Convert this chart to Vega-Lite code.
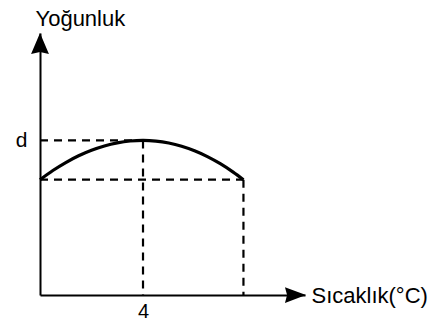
{
  "$schema": "https://vega.github.io/schema/vega-lite/v6.json",
  "width": 265,
  "height": 262,
  "autosize": {"type": "none"},
  "padding": {"left": 40, "top": 33, "right": 130, "bottom": 27},
  "background": "white",
  "config": {"view": {"stroke": null}, "font": "Liberation Sans"},
  "datasets": {
    "curve": [
      {"x": 0, "y": 4.4},
      {"x": 0.5, "y": 4.752},
      {"x": 1, "y": 5.056},
      {"x": 1.5, "y": 5.314},
      {"x": 2, "y": 5.525},
      {"x": 2.5, "y": 5.689},
      {"x": 3, "y": 5.806},
      {"x": 3.5, "y": 5.877},
      {"x": 4, "y": 5.9},
      {"x": 4.5, "y": 5.875},
      {"x": 5, "y": 5.801},
      {"x": 5.5, "y": 5.678},
      {"x": 6, "y": 5.506},
      {"x": 6.5, "y": 5.284},
      {"x": 7, "y": 5.013},
      {"x": 7.5, "y": 4.692},
      {"x": 7.9, "y": 4.4}
    ],
    "guides": [
      {"x": 0, "y": 5.9, "x2": 4, "y2": 5.9},
      {"x": 0, "y": 4.4, "x2": 7.9, "y2": 4.4},
      {"x": 4, "y": 5.9, "x2": 4, "y2": 0},
      {"x": 7.9, "y": 4.4, "x2": 7.9, "y2": 0}
    ],
    "arrows": [
      {"x": 0, "y": 9.6, "dir": "up"},
      {"x": 9.92, "y": 0, "dir": "right"}
    ]
  },
  "layer": [
    {
      "data": {"name": "curve"},
      "mark": {"type": "line", "color": "black", "strokeWidth": 3.2, "interpolate": "monotone"},
      "encoding": {
        "x": {
          "field": "x", "type": "quantitative",
          "scale": {"domain": [0, 10.29], "nice": false, "zero": false},
          "axis": {
            "values": [4], "labelExpr": "'4'", "ticks": false, "grid": false,
            "domainColor": "black", "domainWidth": 2,
            "labelFontSize": 20, "labelColor": "black", "labelPadding": 6,
            "title": "Sıcaklık(°C)", "titleFontSize": 22, "titleFontWeight": "normal",
            "titleColor": "black", "titleAngle": 0, "titleAlign": "left",
            "titleBaseline": "alphabetic", "titleX": 271, "titleY": 7
          }
        },
        "y": {
          "field": "y", "type": "quantitative",
          "scale": {"domain": [0, 10], "nice": false, "zero": false},
          "axis": {
            "values": [5.9], "labelExpr": "'d'", "ticks": false, "grid": false,
            "domainColor": "black", "domainWidth": 2,
            "labelFontSize": 21, "labelColor": "black", "labelPadding": 13,
            "title": "Yoğunluk", "titleFontSize": 22, "titleFontWeight": "normal",
            "titleColor": "black", "titleAngle": 0, "titleAlign": "left",
            "titleBaseline": "alphabetic", "titleX": -5, "titleY": -8
          }
        }
      }
    },
    {
      "data": {"name": "guides"},
      "mark": {"type": "rule", "color": "black", "strokeWidth": 2.2, "strokeDash": [8, 6]},
      "encoding": {
        "x": {"field": "x", "type": "quantitative"},
        "y": {"field": "y", "type": "quantitative"},
        "x2": {"field": "x2"},
        "y2": {"field": "y2"}
      }
    },
    {
      "data": {"name": "arrows"},
      "mark": {"type": "point", "filled": true, "color": "black", "opacity": 1, "size": 441, "strokeWidth": 0},
      "encoding": {
        "x": {"field": "x", "type": "quantitative"},
        "y": {"field": "y", "type": "quantitative"},
        "shape": {
          "field": "dir", "type": "nominal", "legend": null,
          "scale": {"domain": ["up", "right"], "range": ["M0,-1L0.85,1L0,0.8L-0.85,1Z", "M1,0L-1,0.75L-0.8,0L-1,-0.75Z"]}
        }
      }
    }
  ]
}
